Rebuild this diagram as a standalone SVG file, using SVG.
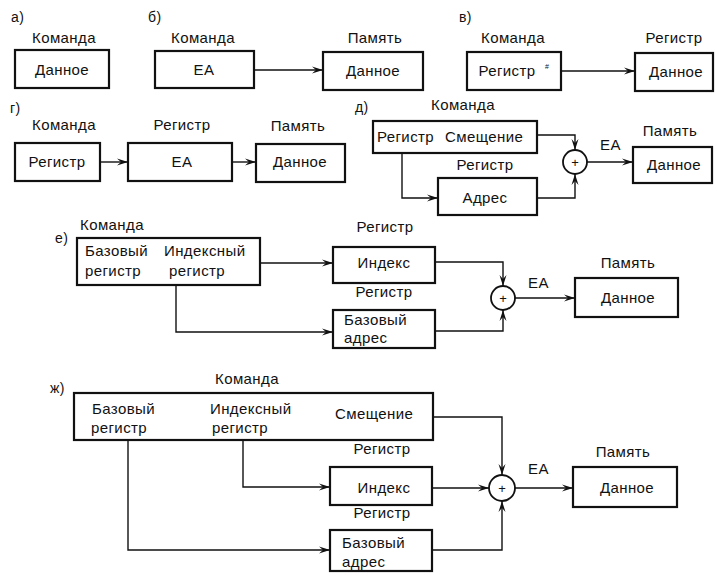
<svg xmlns="http://www.w3.org/2000/svg" width="717" height="577" viewBox="0 0 717 577">
<defs>
<marker id="ar" markerUnits="userSpaceOnUse" markerWidth="12" markerHeight="8" refX="11" refY="4" orient="auto">
<path d="M0,0.5 L11,4 L0,7.5 L4,4 z" fill="#111"/>
</marker>
<style>
text{font-family:"Liberation Sans",Arial,sans-serif;font-size:15px;letter-spacing:0.4px;fill:#111}
.m{text-anchor:middle}
.box{fill:none;stroke:#111;stroke-width:2.2}
.c{fill:none;stroke:#111;stroke-width:1.4}
.w{fill:none;stroke:#111;stroke-width:1.4;marker-end:url(#ar)}
.lab{font-size:14px}
.p{font-size:13px;letter-spacing:0}
</style>
</defs>
<rect width="717" height="577" fill="#fff"/>

<!-- part labels -->
<text class="lab" x="11" y="22">а)</text>
<text class="lab" x="148" y="22">б)</text>
<text class="lab" x="459" y="22">в)</text>
<text class="lab" x="10" y="113">г)</text>
<text class="lab" x="355" y="112">д)</text>
<text class="lab" x="55" y="243">е)</text>
<text class="lab" x="50" y="393">ж)</text>

<!-- а -->
<g id="a_cmd">
<text class="m" x="64" y="43">Команда</text>
<rect class="box" x="15" y="50" width="94" height="38"/>
<text class="m" x="62" y="75">Данное</text>
</g>

<!-- б -->
<g id="b_cmd">
<text class="m" x="203" y="43">Команда</text>
<rect class="box" x="155" y="51" width="99" height="37"/>
<text class="m" x="204" y="75">EA</text>
</g>
<g id="b_mem">
<text class="m" x="375" y="43">Память</text>
<rect class="box" x="323" y="52" width="100" height="38"/>
<text class="m" x="373" y="76">Данное</text>
</g>

<!-- в -->
<g id="v_cmd">
<text class="m" x="513" y="43">Команда</text>
<rect class="box" x="467" y="52" width="94" height="38"/>
<text class="m" x="507" y="76">Регистр</text>
<text x="545" y="69" style="font-size:7px;letter-spacing:0">#</text>
</g>
<g id="v_reg">
<text class="m" x="674" y="43">Регистр</text>
<rect class="box" x="635" y="53" width="78" height="38"/>
<text class="m" x="676" y="77">Данное</text>
</g>

<!-- г -->
<g id="g_cmd">
<text class="m" x="64" y="130">Команда</text>
<rect class="box" x="15" y="143" width="85" height="38"/>
<text class="m" x="57" y="167">Регистр</text>
</g>
<g id="g_reg">
<text class="m" x="182" y="130">Регистр</text>
<rect class="box" x="128" y="143" width="104" height="38"/>
<text class="m" x="182" y="167">EA</text>
</g>
<g id="g_mem">
<text class="m" x="298" y="131">Память</text>
<rect class="box" x="256" y="144" width="89" height="38"/>
<text class="m" x="300" y="167">Данное</text>
</g>

<!-- д -->
<g id="d_cmd">
<text class="m" x="463" y="110">Команда</text>
<rect class="box" x="373" y="121" width="164" height="32"/>
<text x="377" y="142">Регистр</text>
<text x="445" y="142">Смещение</text>
</g>
<g id="d_reg">
<text class="m" x="485" y="170">Регистр</text>
<rect class="box" x="438" y="178" width="99" height="37"/>
<text class="m" x="485" y="203">Адрес</text>
</g>
<g id="d_sum">
<circle class="box" cx="575" cy="162" r="12" style="stroke-width:1.8"/>
<text class="m p" x="575" y="166.5">+</text>
</g>
<g id="d_mem">
<text class="m" x="670" y="136">Память</text>
<rect class="box" x="633" y="147" width="79" height="36"/>
<text class="m" x="674" y="170">Данное</text>
</g>

<!-- е -->
<g id="e_cmd">
<text x="80" y="230">Команда</text>
<rect class="box" x="77" y="238" width="183" height="47"/>
<text x="85" y="256">Базовый</text>
<text x="85" y="276">регистр</text>
<text x="164" y="256">Индексный</text>
<text x="169" y="276">регистр</text>
</g>
<g id="e_idx">
<text class="m" x="385" y="232">Регистр</text>
<rect class="box" x="333" y="247" width="102" height="36"/>
<text class="m" x="384" y="268">Индекс</text>
</g>
<g id="e_base">
<text class="m" x="384" y="297">Регистр</text>
<rect class="box" x="333" y="310" width="102" height="38"/>
<text x="344" y="325">Базовый</text>
<text x="344" y="343">адрес</text>
</g>
<g id="e_sum">
<circle class="box" cx="503" cy="298" r="12" style="stroke-width:1.8"/>
<text class="m p" x="503" y="302.5">+</text>
</g>
<g id="e_mem">
<text class="m" x="628" y="268">Память</text>
<rect class="box" x="575" y="278" width="103" height="39"/>
<text class="m" x="628" y="303">Данное</text>
</g>

<!-- ж -->
<g id="zh_cmd">
<text class="m" x="247" y="384">Команда</text>
<rect class="box" x="74" y="393" width="359" height="47"/>
<text x="92" y="414">Базовый</text>
<text x="91" y="433">регистр</text>
<text x="210" y="414">Индексный</text>
<text x="212" y="433">регистр</text>
<text x="335" y="419">Смещение</text>
</g>
<g id="zh_idx">
<text class="m" x="382" y="454">Регистр</text>
<rect class="box" x="330" y="467" width="102" height="38"/>
<text class="m" x="384" y="493">Индекс</text>
</g>
<g id="zh_base">
<text class="m" x="382" y="518">Регистр</text>
<rect class="box" x="330" y="530" width="102" height="41"/>
<text x="342" y="548">Базовый</text>
<text x="342" y="567">адрес</text>
</g>
<g id="zh_sum">
<circle class="box" cx="502" cy="488" r="13" style="stroke-width:1.8"/>
<text class="m p" x="502" y="492.5">+</text>
</g>
<g id="zh_mem">
<text class="m" x="623" y="457">Память</text>
<rect class="box" x="573" y="467" width="104" height="40"/>
<text class="m" x="627" y="493">Данное</text>
</g>

<!-- EA labels -->
<text x="600" y="150">EA</text>
<text x="528" y="288">EA</text>
<text x="528" y="474">EA</text>

<g id="connectors">
<path class="w" d="M254,70 H323"/>
<path class="w" d="M561,71 H635"/>
<path class="w" d="M100,162 H128"/>
<path class="w" d="M232,162 H256"/>
<path class="w" d="M537,135 H575 V150"/>
<path class="w" d="M402,153 V198 H438"/>
<path class="w" d="M537,198 H575 V174"/>
<path class="w" d="M587,162 H633"/>
<path class="w" d="M260,263 H333"/>
<path class="w" d="M176,285 V332 H333"/>
<path class="w" d="M435,262 H503 V286"/>
<path class="w" d="M435,331 H503 V310"/>
<path class="w" d="M515,298 H575"/>
<path class="w" d="M433,417 H502 V475"/>
<path class="w" d="M243,440 V487 H330"/>
<path class="w" d="M432,488 H489"/>
<path class="w" d="M128,440 V550 H330"/>
<path class="w" d="M432,550 H502 V501"/>
<path class="w" d="M515,488 H573"/>
</g>
</svg>
